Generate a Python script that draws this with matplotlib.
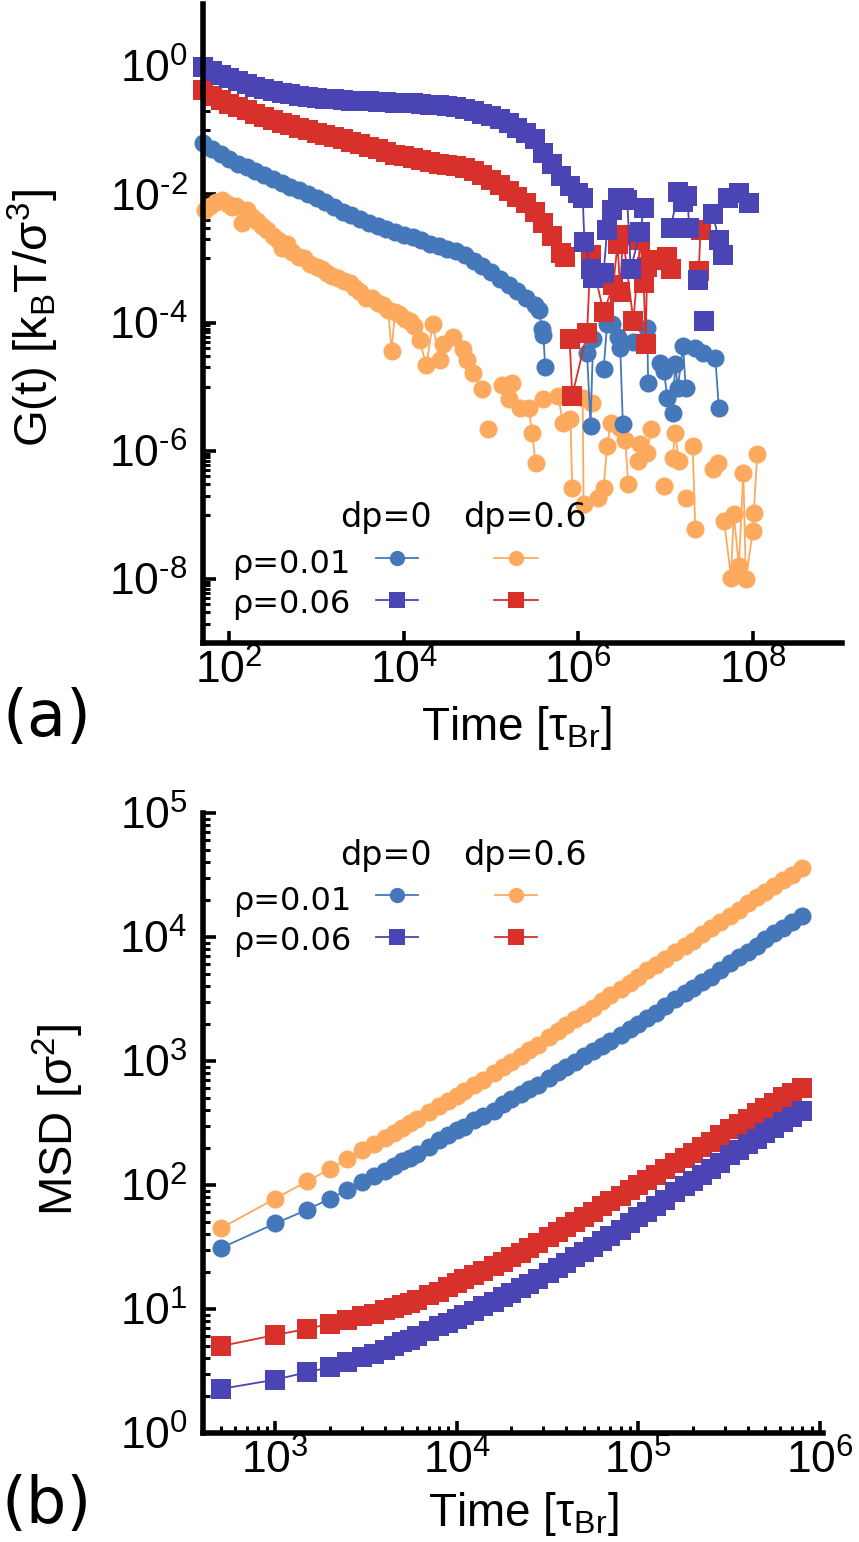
import numpy as np
import matplotlib
matplotlib.use("Agg")
import matplotlib.pyplot as plt
from matplotlib.lines import Line2D
from matplotlib.ticker import FixedLocator, FuncFormatter, LogLocator, NullFormatter, NullLocator

nan = np.nan

# ---------------- panel (a): G(t), values read as log10 from the log-log plot
ga_grid_logt = [1.7, 1.8, 1.9, 2.0, 2.1, 2.2, 2.3, 2.4, 2.5, 2.6,
                2.7, 2.8, 2.9, 3.0, 3.1, 3.2, 3.3, 3.4, 3.5, 3.6,
                3.7, 3.8, 3.9, 4.0, 4.1, 4.2, 4.3, 4.4, 4.5, 4.6,
                4.7, 4.8, 4.9, 5.0, 5.1, 5.2, 5.3, 5.4, 5.5, 5.6,
                5.7, 5.8, 5.9, 6.0]

# rho=0.01, dp=0 (blue circles)
ga_blue_smooth = [-1.20, -1.29, -1.37, -1.45, -1.52, -1.58, -1.64, -1.70, -1.76, -1.82,
                  -1.88, -1.94, -2.00, -2.06, -2.12, -2.20, -2.27, -2.33, -2.39, -2.44,
                  -2.49, -2.54, -2.59, -2.63, -2.67, -2.72, -2.77, -2.81, -2.85, -2.89,
                  -2.95, -3.04, -3.12, -3.21, -3.32, -3.42, -3.51, -3.61, -3.72]
ga_blue_tail_logt = [5.55, 5.58, 5.60, 5.62, 5.80, 6.10, 6.14, 6.17, 6.22, 6.29, 6.33, 6.39,
                     6.42, 6.45, 6.48, 6.51, 6.57, 6.63, 6.70, 6.79, 6.80, 6.87, 6.94, 6.98,
                     7.02, 7.08, 7.11, 7.14, 7.20, 7.23, 7.28, 7.34, 7.43, 7.50, 7.57, 7.61]
ga_blue_tail_logg = [-3.80, -4.10, -4.20, -4.70, nan, -4.48, -5.61, -4.25, nan, -4.72, -4.02, -4.02,
                     nan, -4.23, -4.39, -5.58, nan, -4.31, nan, -4.08, -4.95, nan, -4.63, -4.75,
                     -5.17, -5.41, -4.64, -5.02, -4.36, -5.02, nan, -4.39, -4.48, nan, -4.56, -5.33]

# rho=0.06, dp=0 (purple squares)
ga_purple_smooth = [-0.02, -0.08, -0.14, -0.19, -0.24, -0.28, -0.32, -0.36, -0.39, -0.42,
                    -0.44, -0.46, -0.48, -0.50, -0.51, -0.52, -0.53, -0.54, -0.55, -0.55,
                    -0.56, -0.56, -0.57, -0.57, -0.58, -0.59, -0.60, -0.61, -0.62, -0.64,
                    -0.67, -0.70, -0.74, -0.78, -0.83, -0.89, -0.96, -1.04, -1.14, -1.35,
                    -1.52, -1.72, -1.87, -1.98]
ga_purple_tail_logt = [6.05, 6.07, 6.14, 6.17, 6.29, 6.33, 6.39, 6.45, 6.52, 6.56, 6.60,
                       6.71, 6.75, 6.90, 7.06, 7.14, 7.20, 7.25, 7.27, 7.32, 7.37, 7.40,
                       7.44, 7.50, 7.54, 7.61, 7.66, 7.69, 7.72, 7.84, 7.95]
ga_purple_tail_logg = [-2.05, -2.75, -3.16, -3.30, -3.22, -2.56, -2.25, -2.05, -2.05, -2.09, -3.16,
                       -2.59, -2.22, nan, -2.53, -1.97, -2.12, -2.02, -2.52, nan, -3.34, nan,
                       -3.97, nan, -2.30, -2.72, -2.95, nan, -2.05, -1.98, -2.13]

# rho=0.06, dp=0.6 (red squares)
ga_red_smooth = [-0.38, -0.46, -0.53, -0.59, -0.64, -0.69, -0.74, -0.79, -0.84, -0.88,
                 -0.92, -0.96, -1.00, -1.04, -1.08, -1.11, -1.14, -1.18, -1.22, -1.26,
                 -1.30, -1.34, -1.38, -1.41, -1.44, -1.47, -1.50, -1.52, -1.54, -1.56,
                 -1.59, -1.64, -1.70, -1.77, -1.86, -1.95, -2.04, -2.13, -2.27, -2.44,
                 -2.65, -2.92]
ga_red_tail_logt = [5.85, 5.87, 5.90, 5.93, 6.10, 6.14, 6.29, 6.40, 6.45, 6.48, 6.51,
                    6.63, 6.71, 6.75, 6.77, 6.79, 6.83, 7.02, 7.06, 7.20, 7.38, 7.40]
ga_red_tail_logg = [-2.98, nan, -4.25, -5.14, -4.17, -2.95, -3.84, -3.42, -2.77, -3.53, -2.64,
                    -3.97, -2.72, -3.39, -4.33, -3.14, -3.03, -2.98, -3.16, nan, -3.19, -2.56]

# rho=0.01, dp=0.6 (orange circles)
ga_orange_logt = [1.72, 1.78, 1.85, 1.92, 1.98, 2.03, 2.08, 2.15, 2.20, 2.26,
                  2.32, 2.38, 2.43, 2.50, 2.56, 2.61, 2.66, 2.72, 2.80, 2.86,
                  2.92, 3.00, 3.06, 3.12, 3.18, 3.25, 3.32, 3.38, 3.44, 3.50,
                  3.57, 3.63, 3.70, 3.76, 3.82, 3.86, 3.90, 3.95, 4.01, 4.07,
                  4.12, 4.18, 4.26, 4.33, 4.41, 4.45, 4.56, 4.68, 4.72, 4.79,
                  4.90, 4.94, 4.97, 5.05, 5.13, 5.20, 5.24, 5.33, 5.43, 5.47,
                  5.51, 5.55, 5.60, 5.70, 5.77, 5.82, 5.91, 5.93, 6.00, 6.05,
                  6.06, 6.11, 6.16, 6.19, 6.22, 6.29, 6.33, 6.37, 6.48, 6.54,
                  6.57, 6.62, 6.68, 6.71, 6.79, 6.83, 6.90, 6.98, 7.03, 7.08,
                  7.11, 7.15, 7.19, 7.23, 7.27, 7.31, 7.34, 7.45, 7.54, 7.60,
                  7.63, 7.67, 7.75, 7.78, 7.84, 7.89, 7.92, 8.00, 8.01, 8.05]
ga_orange_logg = [-2.25, -2.18, -2.12, -2.09, -2.15, -2.20, -2.18, -2.45, -2.25, -2.35,
                  -2.42, -2.50, -2.56, -2.65, -2.72, -2.83, -2.78, -2.90, -2.98, -3.00,
                  -3.08, -3.14, -3.16, -3.22, -3.27, -3.30, -3.36, -3.39, -3.46, -3.52,
                  -3.61, -3.62, -3.70, -3.73, -3.80, -4.44, -3.84, -3.86, -3.95, -3.97,
                  -4.05, -4.28, -4.67, -4.02, -4.59, -4.33, -4.23, -4.41, -4.59, -4.78,
                  -5.03, nan, -5.66, nan, -4.98, -5.19, -4.95, -5.33, -5.33, -5.72,
                  -6.19, nan, -5.19, nan, -5.14, -5.56, -5.50, -6.58, nan, -5.17,
                  -6.83, nan, -5.25, nan, -6.73, -6.58, -5.92, -5.56, -5.64, -5.84,
                  -6.52, nan, -6.16, -5.89, -6.03, -5.66, nan, -6.55, nan, -6.11,
                  -5.72, -6.16, nan, -6.73, nan, -5.92, -7.22, nan, -6.28, -6.19,
                  nan, -7.09, -7.98, -6.98, -7.80, -6.34, -8.00, -7.25, -6.97, -6.05]

# ---------------- panel (b): MSD, values read as log10
msd_time = [500, 1000, 1500, 2000, 2500, 3000, 3500, 4000, 4500, 5000,
            5500, 6000, 7000, 8000, 9000, 10000,
            11000, 12500, 14000, 16000, 18000, 20000,
            22500, 25000, 28000, 32000, 36000, 40000,
            45000, 50000, 56000, 63000, 70000, 80000,
            90000, 100000, 112000, 125000, 140000, 160000,
            180000, 200000, 225000, 250000, 280000, 320000,
            360000, 400000, 450000, 500000, 560000, 630000,
            700000, 800000]
msd_orange_log = [1.65, 1.89, 2.03, 2.13, 2.21, 2.28, 2.33, 2.38, 2.42, 2.46,
                  2.50, 2.53, 2.59, 2.64, 2.68, 2.72,
                  2.76, 2.81, 2.85, 2.90, 2.95, 2.99,
                  3.04, 3.09, 3.13, 3.19, 3.24, 3.29,
                  3.34, 3.38, 3.43, 3.48, 3.53, 3.58,
                  3.63, 3.68, 3.73, 3.77, 3.82, 3.88,
                  3.93, 3.97, 4.02, 4.07, 4.12, 4.17,
                  4.22, 4.27, 4.32, 4.36, 4.41, 4.46,
                  4.50, 4.56]
msd_blue_log = [1.49, 1.69, 1.80, 1.89, 1.96, 2.02, 2.07, 2.11, 2.15, 2.19,
                2.22, 2.25, 2.31, 2.36, 2.40, 2.44,
                2.47, 2.52, 2.56, 2.60, 2.65, 2.69,
                2.73, 2.77, 2.81, 2.86, 2.91, 2.95,
                2.99, 3.04, 3.08, 3.12, 3.16, 3.21,
                3.26, 3.30, 3.35, 3.39, 3.44, 3.50,
                3.55, 3.59, 3.64, 3.68, 3.73, 3.79,
                3.84, 3.88, 3.93, 3.98, 4.03, 4.07,
                4.12, 4.17]
msd_red_log = [0.70, 0.79, 0.84, 0.88, 0.91, 0.94, 0.96, 0.99, 1.01, 1.03,
               1.05, 1.07, 1.11, 1.14, 1.18, 1.21,
               1.24, 1.27, 1.31, 1.35, 1.38, 1.42,
               1.45, 1.49, 1.53, 1.58, 1.62, 1.66,
               1.70, 1.74, 1.78, 1.83, 1.87, 1.91,
               1.96, 2.00, 2.04, 2.08, 2.13, 2.18,
               2.22, 2.26, 2.31, 2.35, 2.40, 2.45,
               2.49, 2.53, 2.58, 2.62, 2.66, 2.71,
               2.74, 2.78]
msd_purple_log = [0.355, 0.43, 0.49, 0.53, 0.57, 0.61, 0.64, 0.67, 0.70, 0.73,
                  0.75, 0.78, 0.82, 0.86, 0.89, 0.92,
                  0.95, 0.98, 1.02, 1.06, 1.10, 1.13,
                  1.17, 1.20, 1.24, 1.29, 1.33, 1.37,
                  1.42, 1.46, 1.50, 1.55, 1.59, 1.64,
                  1.69, 1.74, 1.78, 1.83, 1.88, 1.94,
                  1.99, 2.03, 2.08, 2.13, 2.18, 2.24,
                  2.28, 2.33, 2.37, 2.42, 2.46, 2.51,
                  2.55, 2.60]

row_labels = ["ρ=0.01", "ρ=0.06"]
col_labels = ["dp=0", "dp=0.6"]

_BLUE = "#4478BA"
_PURPLE = "#4B44B5"
_RED = "#D8302A"
_ORANGE = "#FDAA5E"
_CIRCLE_MS = 13.0
_SQUARE_MS = 14.0
_LINE_W = 1.3
_TICK_SIZE = 32


def _pow10(value, pos):
    exponent = int(round(np.log10(value)))
    text = str(exponent).replace("-", "\u2010")
    return r"$\mathregular{10^{%s}}$" % text


def _style(ax):
    for side in ("top", "right"):
        ax.spines[side].set_visible(False)
    for side in ("left", "bottom"):
        ax.spines[side].set_linewidth(4)
    ax.tick_params(which="both", direction="in", top=False, right=False, color="black")
    ax.tick_params(which="major", length=9, width=2.6, labelsize=_TICK_SIZE)
    ax.tick_params(which="minor", length=5, width=2.2)
    ax.tick_params(axis="y", pad=11)
    ax.tick_params(axis="x", pad=5)
    ax.xaxis.set_major_formatter(FuncFormatter(_pow10))
    ax.yaxis.set_major_formatter(FuncFormatter(_pow10))
    ax.xaxis.set_minor_formatter(NullFormatter())
    ax.yaxis.set_minor_formatter(NullFormatter())


def _series(ax, x, y, color, marker, ms):
    ax.plot(x, y, color=color, lw=_LINE_W, marker=marker, ms=ms, mew=0, clip_on=False)


def _legend(ax, text_x, head_x, head_y, row_y, key_x, key_y):
    for label, x in zip(col_labels, head_x):
        ax.text(x, head_y, label, transform=ax.transAxes, fontsize=24,
                family="DejaVu Sans", va="baseline", ha="left")
    for label, y in zip(row_labels, row_y):
        ax.text(text_x, y, label, transform=ax.transAxes, fontsize=23,
                family="DejaVu Sans", va="baseline", ha="left")
    keys = [(_BLUE, "o", 11.0, 0, 0), (_ORANGE, "o", 11.0, 1, 0),
            (_PURPLE, "s", 12.0, 0, 1), (_RED, "s", 12.0, 1, 1)]
    for color, marker, ms, col, row in keys:
        x0, x1 = key_x[col]
        y = key_y[row]
        ax.add_line(Line2D([x0, (x0 + x1) / 2, x1], [y, y, y], transform=ax.transAxes,
                           color=color, lw=_LINE_W, marker=marker, ms=ms, mew=0,
                           markevery=[1], clip_on=False))


def _main():
    plt.rcParams["font.family"] = ["Liberation Sans", "DejaVu Sans"]
    fig = plt.figure(figsize=(8.59, 15.42), dpi=100)
    ax_a = fig.add_axes([0.2363, 0.5830, 0.7439, 0.4144])
    ax_b = fig.add_axes([0.2363, 0.0707, 0.7218, 0.4021])

    # ---- (a)
    grid = np.array(ga_grid_logt)
    blue_t = np.concatenate([grid[:len(ga_blue_smooth)], ga_blue_tail_logt])
    blue_g = np.concatenate([ga_blue_smooth, ga_blue_tail_logg])
    purple_t = np.concatenate([grid[:len(ga_purple_smooth)], ga_purple_tail_logt])
    purple_g = np.concatenate([ga_purple_smooth, ga_purple_tail_logg])
    red_t = np.concatenate([grid[:len(ga_red_smooth)], ga_red_tail_logt])
    red_g = np.concatenate([ga_red_smooth, ga_red_tail_logg])

    _series(ax_a, 10.0 ** np.array(ga_orange_logt), 10.0 ** np.array(ga_orange_logg), _ORANGE, "o", _CIRCLE_MS)
    _series(ax_a, 10.0 ** blue_t, 10.0 ** blue_g, _BLUE, "o", _CIRCLE_MS)
    _series(ax_a, 10.0 ** red_t, 10.0 ** red_g, _RED, "s", _SQUARE_MS)
    _series(ax_a, 10.0 ** purple_t, 10.0 ** purple_g, _PURPLE, "s", _SQUARE_MS)

    ax_a.set_xscale("log")
    ax_a.set_yscale("log")
    ax_a.set_xlim(50, 1.05e9)
    ax_a.set_ylim(1e-9, 9.3)
    _style(ax_a)
    ax_a.xaxis.set_major_locator(FixedLocator([1e2, 1e4, 1e6, 1e8]))
    ax_a.xaxis.set_minor_locator(NullLocator())
    ax_a.yaxis.set_major_locator(FixedLocator([1e-8, 1e-6, 1e-4, 1e-2, 1e0]))
    ax_a.yaxis.set_minor_locator(FixedLocator(
        [m * 10.0 ** e for e in (-9, -7, -5, -3, -1) for m in range(1, 10)]))
    _legend(ax_a, 0.045, [0.214, 0.407], 0.1815, [0.1095, 0.047],
            [(0.271, 0.336), (0.455, 0.524)], [0.133, 0.067])

    # ---- (b)
    t = np.array(msd_time, dtype=float)
    _series(ax_b, t, 10.0 ** np.array(msd_orange_log), _ORANGE, "o", _CIRCLE_MS)
    _series(ax_b, t, 10.0 ** np.array(msd_blue_log), _BLUE, "o", _CIRCLE_MS)
    _series(ax_b, t, 10.0 ** np.array(msd_red_log), _RED, "s", _SQUARE_MS)
    _series(ax_b, t, 10.0 ** np.array(msd_purple_log), _PURPLE, "s", _SQUARE_MS)

    ax_b.set_xscale("log")
    ax_b.set_yscale("log")
    ax_b.set_xlim(400, 1.04e6)
    ax_b.set_ylim(1, 1e5)
    _style(ax_b)
    ax_b.xaxis.set_major_locator(FixedLocator([1e3, 1e4, 1e5, 1e6]))
    ax_b.xaxis.set_minor_locator(LogLocator(base=10, subs=np.arange(2, 10)))
    ax_b.yaxis.set_major_locator(FixedLocator([1e0, 1e1, 1e2, 1e3, 1e4, 1e5]))
    ax_b.yaxis.set_minor_locator(LogLocator(base=10, subs=np.arange(2, 10)))
    _legend(ax_b, 0.048, [0.221, 0.419], 0.916, [0.844, 0.779],
            [(0.279, 0.347), (0.471, 0.539)], [0.868, 0.800])

    # ---- labels
    xlabel = r"Time [τ$_{\mathregular{Br}}$]"
    fig.text(516 / 859, 1 - 728 / 1542, xlabel, fontsize=33, ha="center", va="center")
    fig.text(523 / 859, 1 - 1514 / 1542, xlabel, fontsize=33, ha="center", va="center")
    fig.text(33 / 859, 1 - 318 / 1542, r"G(t) [k$_{\mathregular{B}}$T/σ$^{\mathregular{3}}$]",
             fontsize=34, rotation=90, ha="center", va="center")
    fig.text(58 / 859, 1 - 1120 / 1542, r"MSD [σ$^{\mathregular{2}}$]",
             fontsize=34, rotation=90, ha="center", va="center")
    fig.text(47 / 859, 1 - 718 / 1542, "(a)", fontsize=46, family="DejaVu Sans",
             ha="center", va="center")
    fig.text(47 / 859, 1 - 1505 / 1542, "(b)", fontsize=46, family="DejaVu Sans",
             ha="center", va="center")

    fig.savefig("out.png", dpi=100)


if __name__ == "__main__":
    _main()
